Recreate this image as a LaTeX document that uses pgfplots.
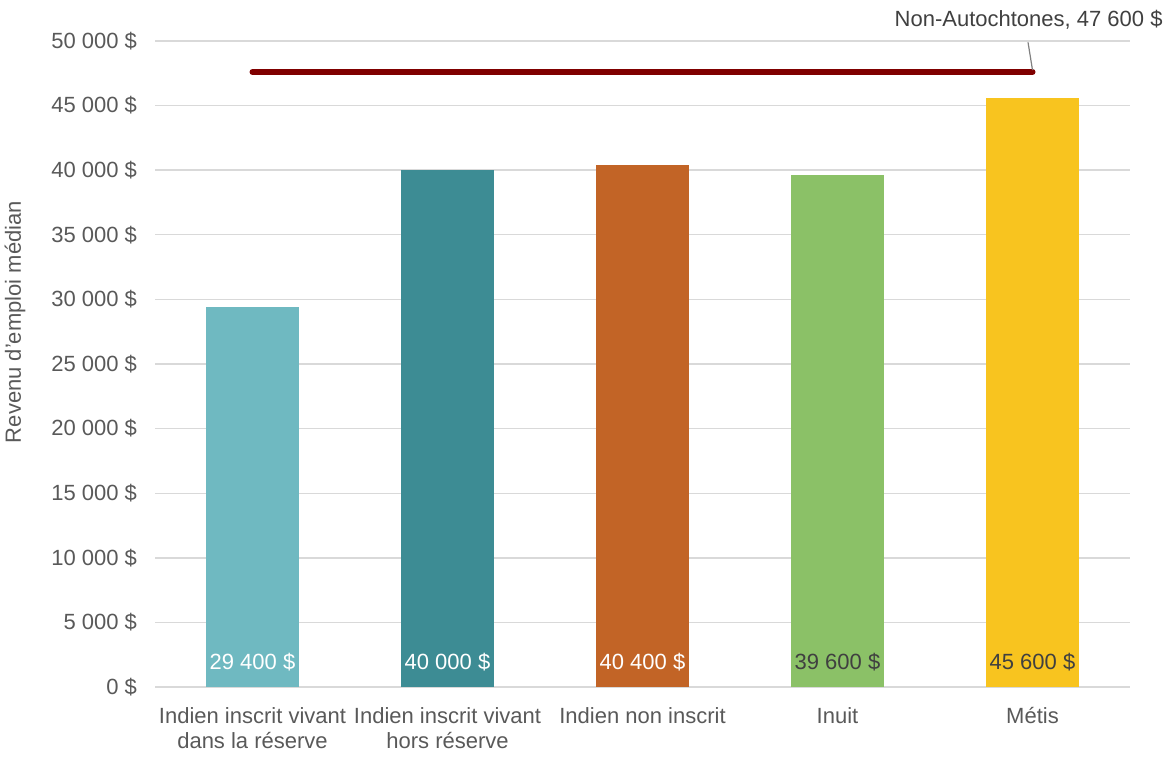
\documentclass[border=0pt]{standalone}
\usepackage{pgfplots}
\pgfplotsset{compat=1.18}
\usepackage{fontspec}
\setmainfont{Liberation Sans}
\definecolor{c1}{HTML}{6FB9C1}
\definecolor{c2}{HTML}{3D8C94}
\definecolor{c3}{HTML}{C26426}
\definecolor{c4}{HTML}{8BC167}
\definecolor{c5}{HTML}{F8C41F}
\definecolor{txt}{HTML}{595959}
\definecolor{gridc}{HTML}{D9D9D9}
\definecolor{nonaut}{HTML}{800000}
\definecolor{dark}{HTML}{404040}
\begin{document}
\begin{tikzpicture}
\useasboundingbox (-77.5pt,-36pt) rectangle (507.5pt,343.5pt);
\begin{axis}[
  at={(0pt,0pt)}, anchor=south west,
  scale only axis, width=487.5pt, height=323pt,
  xmin=-0.5, xmax=4.5, ymin=0, ymax=50000,
  scaled y ticks=false,
  bar width=46.5pt,
  axis line style={draw=none},
  major tick length=0pt,
  ymajorgrids, grid style={gridc, line width=0.7pt},
  xtick={0,1,2,3,4},
  xticklabels={{Indien inscrit vivant\\dans la réserve},{Indien inscrit vivant\\hors réserve},{Indien non inscrit},{Inuit},{Métis}},
  xticklabel style={align=center, text=txt, font=\fontsize{11}{12.8}\selectfont, yshift=-6.5pt},
  ytick={0,5000,10000,15000,20000,25000,30000,35000,40000,45000,50000},
  yticklabels={0 \$,5 000 \$,10 000 \$,15 000 \$,20 000 \$,25 000 \$,30 000 \$,35 000 \$,40 000 \$,45 000 \$,50 000 \$},
  yticklabel style={text=txt, font=\fontsize{11}{13}\selectfont, xshift=-5.5pt},
  ylabel={Revenu d'emploi médian},
  ylabel style={at={(axis description cs:-0.1436,0.565)}, anchor=center, text=txt, font=\fontsize{11}{13}\selectfont},
  clip=false,
]
\addplot[ybar, bar shift=0pt, fill=c1, draw=none] coordinates {(0,29400)};
\addplot[ybar, bar shift=0pt, fill=c2, draw=none] coordinates {(1,40000)};
\addplot[ybar, bar shift=0pt, fill=c3, draw=none] coordinates {(2,40400)};
\addplot[ybar, bar shift=0pt, fill=c4, draw=none] coordinates {(3,39600)};
\addplot[ybar, bar shift=0pt, fill=c5, draw=none] coordinates {(4,45600)};
\addplot[nonaut, line width=3pt, line cap=round, mark=none] coordinates {(0,47600) (4,47600)};
\draw[gray, line width=0.6pt] (axis cs:4.0,47750) -- (axis cs:3.977,49900);
\node[anchor=east, text=dark, font=\fontsize{11}{13}\selectfont, inner sep=0pt] at (rel axis cs:1.0338,1.0325) {Non-Autochtones, 47 600 \$};
\tikzset{vl/.style={font=\fontsize{11}{13}\selectfont, inner sep=0pt, yshift=12.5pt}}
\node[vl, text=white] at (axis cs:0,0) {29 400 \$};
\node[vl, text=white] at (axis cs:1,0) {40 000 \$};
\node[vl, text=white] at (axis cs:2,0) {40 400 \$};
\node[vl, text=dark] at (axis cs:3,0) {39 600 \$};
\node[vl, text=dark] at (axis cs:4,0) {45 600 \$};
\end{axis}
\end{tikzpicture}
\end{document}
